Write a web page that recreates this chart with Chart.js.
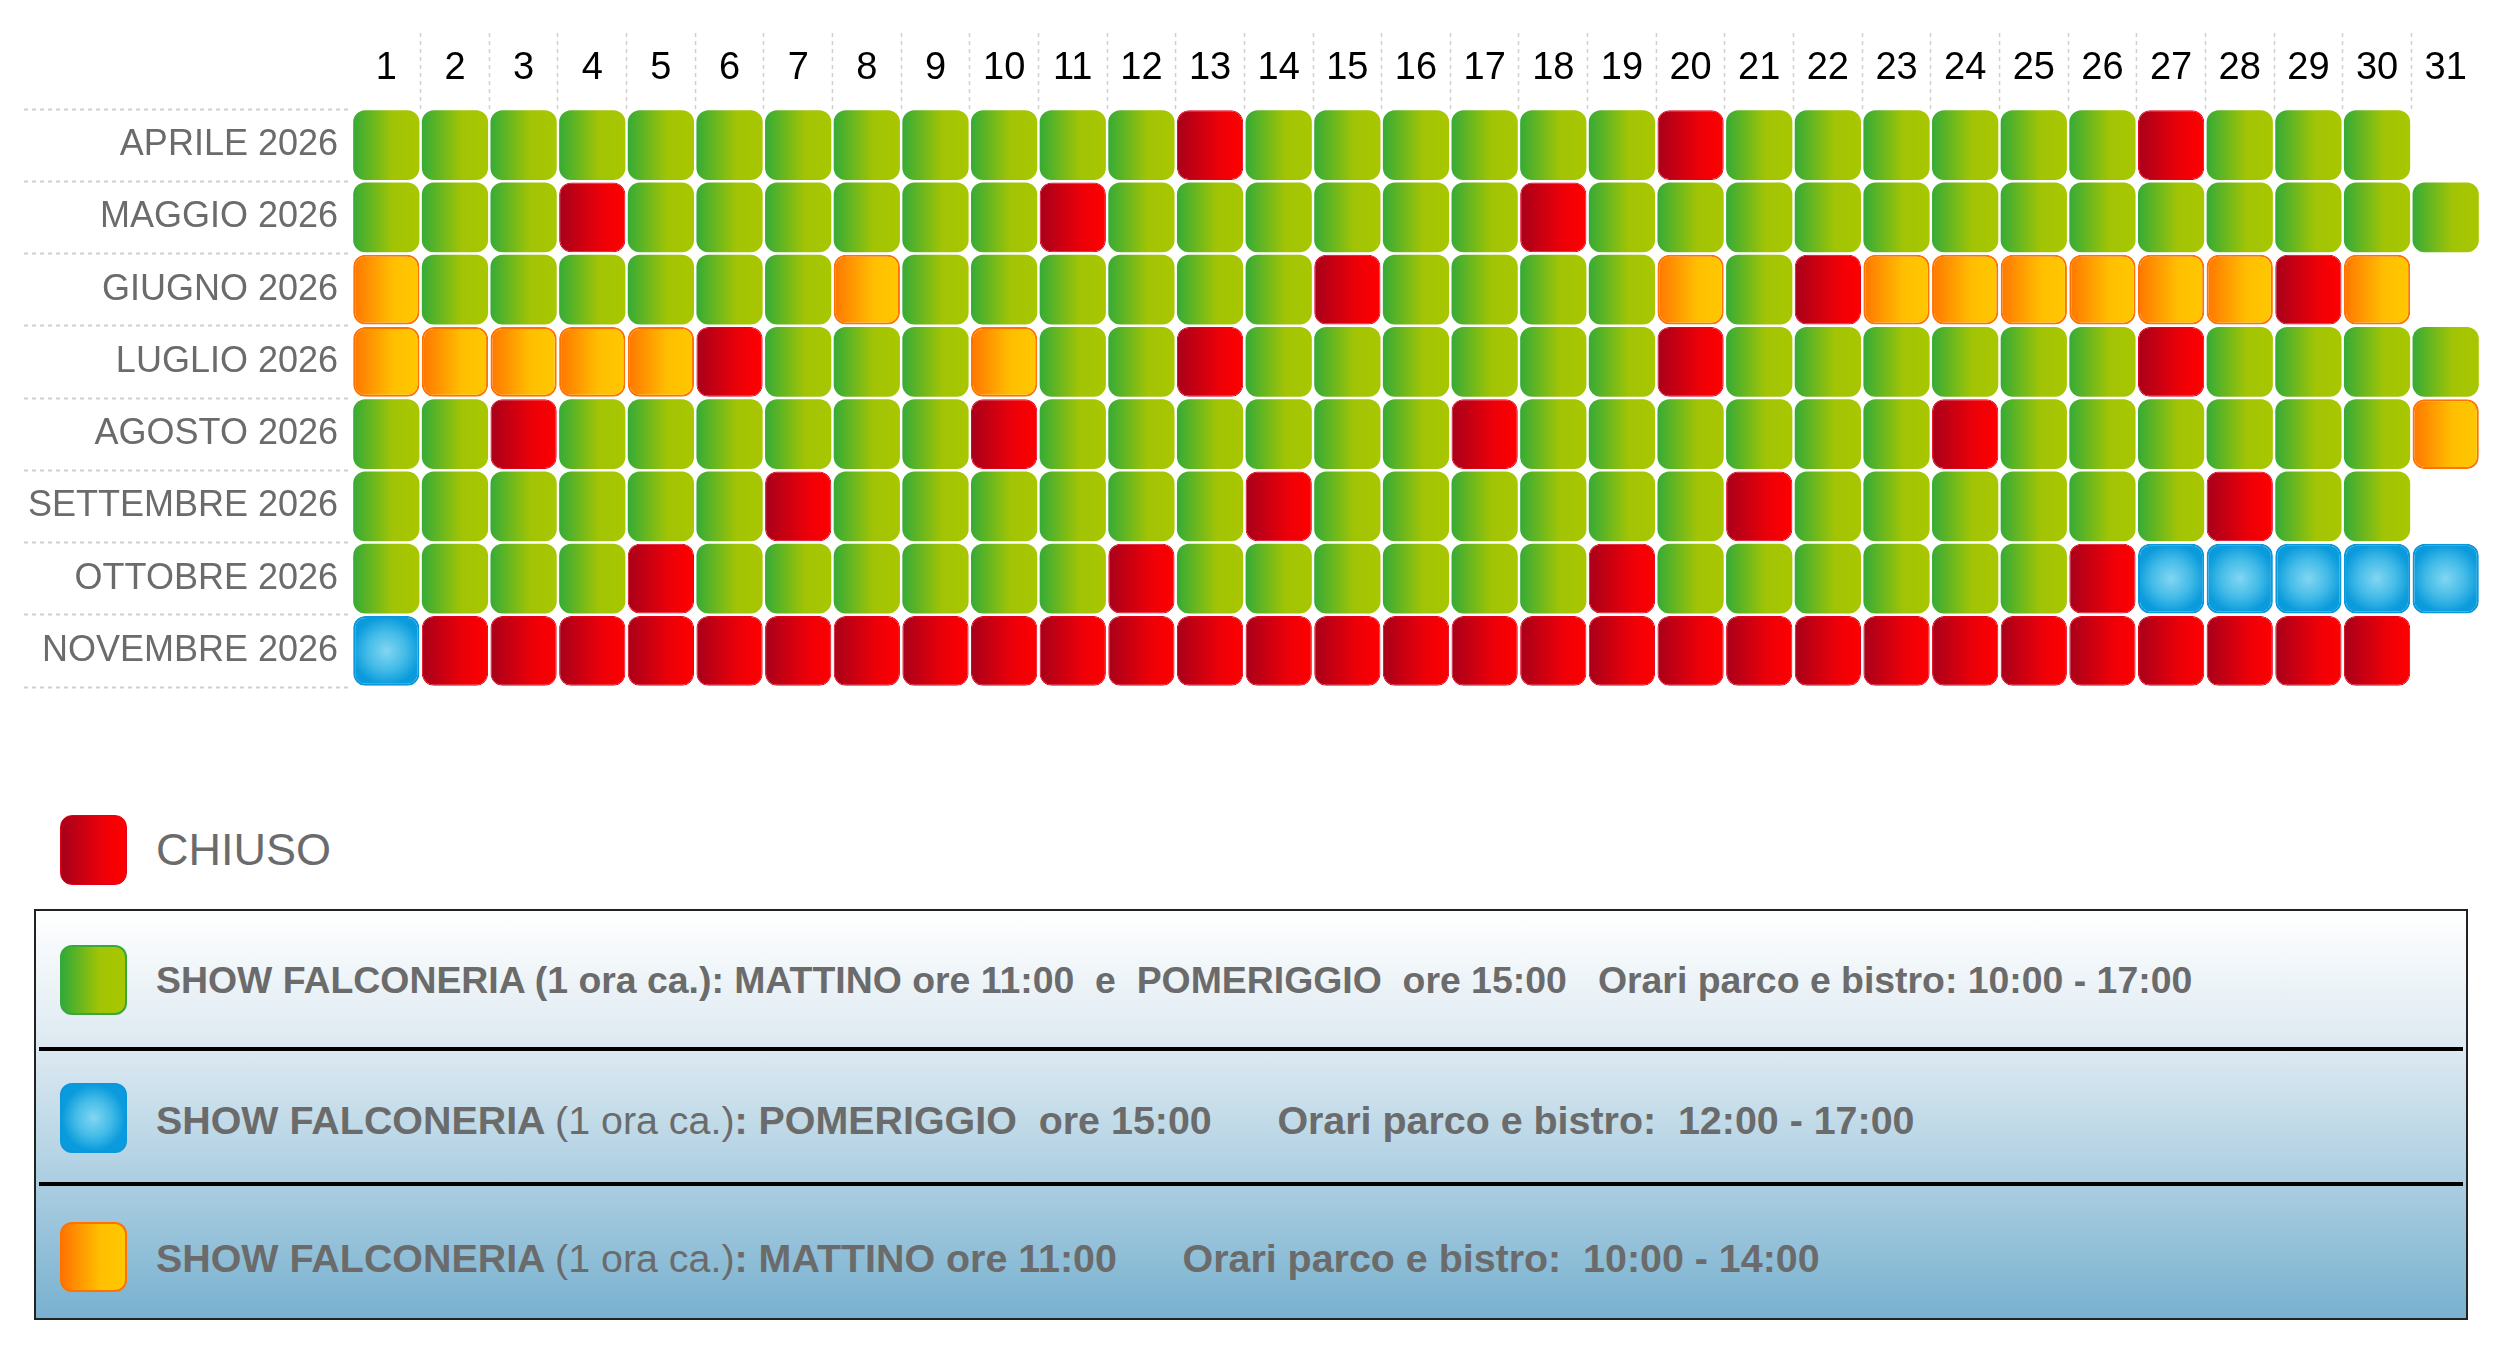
<!DOCTYPE html>
<html lang="it">
<head>
<meta charset="utf-8">
<title>Calendario Falconeria 2026</title>
<script src="https://cdn.jsdelivr.net/npm/chart.js@4.4.1/dist/chart.umd.min.js"></script>
<style>
  html, body { margin: 0; padding: 0; background: #fff; }
  body {
    position: relative; width: 2508px; height: 1345px; overflow: hidden;
    font-family: 'Liberation Sans', Arial, sans-serif; color: #6b6b6b;
  }
  #chartWrap { position: absolute; left: 0; top: 0; width: 2508px; height: 720px; }
  .swatch {
    position: absolute; left: 60px; width: 67px; height: 70px;
    border-radius: 12px; box-sizing: border-box;
  }
  .sw-red { background: linear-gradient(90deg, #a6001b 0%, #ee0008 65%, #ff0000 100%); border: 1px solid #e0001a; }
  .sw-green { background: linear-gradient(90deg, #33aa38 0%, #a2c405 60%, #a9c700 100%); border: 2px solid #36a93a; }
  .sw-blue { background: radial-gradient(closest-side, #82d6f2 0%, #45bce8 55%, #0a9bdc 100%); border: 2px solid #0a97dc; }
  .sw-orange { background: linear-gradient(90deg, #ff7400 0%, #ffbf00 60%, #ffc800 100%); border: 2px solid #ff7200; }
  .label {
    position: absolute; left: 156px; height: 60px; display: flex; align-items: center;
    white-space: pre; color: #6b6b6b;
  }
  .chiuso { font-size: 45px; }
  .row1 { font-size: 37.4px; font-weight: bold; }
  .row2 { font-size: 39.4px; font-weight: bold; }
  .row2 .light { font-weight: normal; }
  #legendBox {
    position: absolute; left: 34px; top: 909px; width: 2434px; height: 411px;
    box-sizing: border-box; border: 2px solid #222;
    background: linear-gradient(180deg, #ffffff 0%, #dce9f1 34%, #abcee1 67%, #78b1cf 100%);
  }
  .divider { position: absolute; left: 39px; width: 2424px; height: 4px; background: #000; }
</style>
</head>
<body>
<div id="chartWrap"><canvas id="calendarChart"></canvas></div>

<div class="swatch sw-red" style="top:815px"></div>
<div class="label chiuso" style="top:820px">CHIUSO</div>

<div id="legendBox"></div>
<div class="divider" style="top:1047px"></div>
<div class="divider" style="top:1182px"></div>

<div class="swatch sw-green" style="top:945px"></div>
<div class="label row1" style="top:950px">SHOW FALCONERIA (1 ora ca.): MATTINO ore 11:00  e  POMERIGGIO  ore 15:00   Orari parco e bistro: 10:00 - 17:00</div>

<div class="swatch sw-blue" style="top:1083px"></div>
<div class="label row2" style="top:1090px">SHOW FALCONERIA <span class="light">(1 ora ca.)</span>: POMERIGGIO  ore 15:00      Orari parco e bistro:  12:00 - 17:00</div>

<div class="swatch sw-orange" style="top:1222px"></div>
<div class="label row2" style="top:1228px">SHOW FALCONERIA <span class="light">(1 ora ca.)</span>: MATTINO ore 11:00      Orari parco e bistro:  10:00 - 14:00</div>

<script>
// Days of the month (column headers)
const dayLabels = [
    '1', '2', '3', '4', '5', '6', '7', '8', '9', '10',
    '11', '12', '13', '14', '15', '16', '17', '18', '19', '20',
    '21', '22', '23', '24', '25', '26', '27', '28', '29', '30', '31'
];

// Months (row labels)
const monthLabels = [
    'APRILE 2026', 'MAGGIO 2026', 'GIUGNO 2026', 'LUGLIO 2026',
    'AGOSTO 2026', 'SETTEMBRE 2026', 'OTTOBRE 2026', 'NOVEMBRE 2026'
];

// Day status per month, one letter per day:
// V = show mattino e pomeriggio, A = solo mattino, B = solo pomeriggio, R = chiuso
const aprile    = 'VVVVVVVVVVVVRVVVVVVRVVVVVVRVVV'.split('');
const maggio    = 'VVVRVVVVVVRVVVVVVRVVVVVVVVVVVVV'.split('');
const giugno    = 'AVVVVVVAVVVVVVRVVVVAVRAAAAAARA'.split('');
const luglio    = 'AAAAARVVVAVVRVVVVVVRVVVVVVRVVVV'.split('');
const agosto    = 'VVRVVVVVVRVVVVVVRVVVVVVRVVVVVVA'.split('');
const settembre = 'VVVVVVRVVVVVVRVVVVVVRVVVVVVRVV'.split('');
const ottobre   = 'VVVVRVVVVVVRVVVVVVRVVVVVVRBBBBB'.split('');
const novembre  = 'BRRRRRRRRRRRRRRRRRRRRRRRRRRRRR'.split('');

const monthStatus = [aprile, maggio, giugno, luglio, agosto, settembre, ottobre, novembre];

// Look of each status
const statusStyle = {
    V: { stops: [[0, '#33aa38'], [0.6, '#a2c405'], [1, '#a9c700']], border: '#a9c700', width: 0 },
    R: { stops: [[0, '#a6001b'], [0.65, '#ee0008'], [1, '#ff0000']], border: '#e2001a', width: 1 },
    A: { stops: [[0, '#ff7400'], [0.6, '#ffbf00'], [1, '#ffc800']], border: '#ff7200', width: 2 },
    B: { stops: [[0, '#82d6f2'], [0.55, '#45bce8'], [1, '#0a9bdc']], border: '#0a97dc', width: 2 },
};

const CELL_INSET = 0.018; // small gap between rows
const gridGrey = '#cfcfcf';
const labelFont = "'Liberation Sans', Arial, sans-serif";

// Style of a cell, or null for days the month does not have
function styleOf(ctx) {
    if (ctx.type !== 'data') return null;
    const days = monthStatus[ctx.datasetIndex];
    return statusStyle[days[ctx.dataIndex]] || null;
}

// Gradient fill of each day cell, built from the scales
function cellFill(ctx) {
    const style = styleOf(ctx);
    if (!style) return 'rgba(0,0,0,0)';
    const chart = ctx.chart;
    const xs = chart.scales.x;
    const ys = chart.scales.y;
    if (!xs || !ys || !xs.width) return style.stops[1][1];
    const cx = xs.getPixelForValue(ctx.dataIndex);
    const cy = ys.getPixelForValue(ctx.datasetIndex + 0.5);
    const half = xs.width / dayLabels.length / 2;
    if (!isFinite(cx) || !isFinite(cy) || !isFinite(half)) return style.stops[1][1];
    let g;
    if (style === statusStyle.B) {
        g = chart.ctx.createRadialGradient(cx, cy, 0, cx, cy, half);
    } else {
        g = chart.ctx.createLinearGradient(cx - half, 0, cx + half, 0);
    }
    style.stops.forEach(([pos, col]) => g.addColorStop(pos, col));
    return g;
}

// One dataset per month, every day a floating bar across its row
const datasets = monthStatus.map((days, row) => ({
    label: monthLabels[row],
    data: dayLabels.map((d, i) => (i < days.length ? [row + CELL_INSET, row + 1 - CELL_INSET] : null)),
    backgroundColor: cellFill,
    borderColor: (ctx) => (styleOf(ctx) ? styleOf(ctx).border : 'rgba(0,0,0,0)'),
    borderWidth: (ctx) => (styleOf(ctx) ? styleOf(ctx).width : 0),
    borderSkipped: false,
    borderRadius: 12,
    grouped: false,
    barPercentage: 0.965,
    categoryPercentage: 1,
}));

const chartOptions = {
    responsive: true,
    maintainAspectRatio: false,
    animation: false,
    events: [],
    layout: {
        padding: { left: 0, right: 28, top: 0, bottom: 33 },
    },
    scales: {
        x: {
            type: 'category',
            labels: dayLabels,
            position: 'top',
            offset: true,
            border: { display: false },
            grid: {
                offset: true,
                drawOnChartArea: false,
                drawTicks: true,
                tickLength: 76,
                tickWidth: 1.5,
                tickBorderDash: [4, 4],
                tickColor: (c) => (c.type === 'tick' && c.index > 0 ? gridGrey : 'rgba(0,0,0,0)'),
            },
            ticks: {
                autoSkip: false,
                maxRotation: 0,
                padding: -58,
                color: '#000',
                font: { family: labelFont, size: 38 },
            },
            afterFit: (scale) => { scale.height = 109; },
        },
        y: {
            type: 'linear',
            display: false,
            min: 0,
            max: monthLabels.length,
            reverse: true,
        },
        yLabels: {
            type: 'category',
            labels: monthLabels,
            position: 'left',
            offset: true,
            border: { display: false },
            grid: {
                offset: true,
                drawOnChartArea: false,
                drawTicks: true,
                tickLength: 328,
                tickWidth: 2,
                tickBorderDash: [4, 4],
                tickColor: gridGrey,
            },
            ticks: {
                autoSkip: false,
                padding: -314,
                color: '#6b6b6b',
                font: { family: labelFont, size: 36 },
            },
            afterFit: (scale) => { scale.width = 352; },
        },
    },
    plugins: {
        legend: { display: false },
        tooltip: { enabled: false },
        title: { display: false },
    },
};

const ctx = document.getElementById('calendarChart').getContext('2d');
const calendarChart = new Chart(ctx, {
    type: 'bar',
    data: { labels: dayLabels, datasets: datasets },
    options: chartOptions,
});
</script>
</body>
</html>
